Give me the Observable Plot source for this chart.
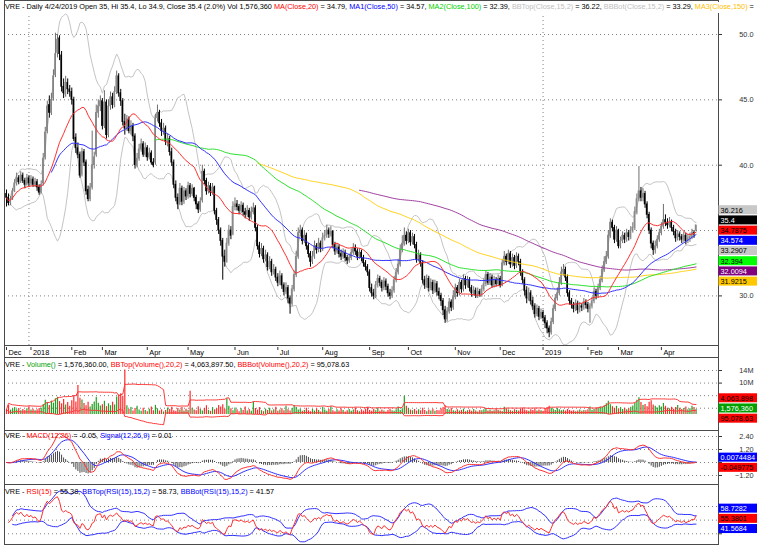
<!DOCTYPE html>
<html><head><meta charset="utf-8">
<script src="https://cdn.jsdelivr.net/npm/d3@7"></script>
<script src="https://cdn.jsdelivr.net/npm/@observablehq/plot@0.6"></script>
<style>
html,body{margin:0;padding:0;background:#fff;}
#chart{position:relative;width:757px;height:549px;overflow:hidden;font-family:"Liberation Sans",Arial,Helvetica,sans-serif;font-size:7.3px;color:#000;background:#fff;}
.hdr{position:absolute;left:5px;white-space:nowrap;line-height:9px;font-size:7.3px;}
</style></head><body><div id="chart">
<div class="hdr" style="top:2px;right:0;background:#fff;height:11px;z-index:2">VRE - Daily 4/24/2019 Open 35, Hi 35.4, Lo 34.9, Close 35.4 (2.0%) Vol 1,576,360 <span style="color:#ff0000">MA(Close,20)</span> = 34.79, <span style="color:#0000ff">MA1(Close,50)</span> = 34.57, <span style="color:#00d000">MA2(Close,100)</span> = 32.39, <span style="color:#c0c0c0">BBTop(Close,15,2)</span> = 36.22, <span style="color:#c0c0c0">BBBot(Close,15,2)</span> = 33.29, <span style="color:#ffc000">MA3(Close,150)</span> =</div>
<div class="hdr" style="top:360px;z-index:2">VRE - <span style="color:#00a000">Volume()</span> = 1,576,360.00, <span style="color:#ff0000">BBTop(Volume(),20,2)</span> = 4,063,897.50, <span style="color:#ff0000">BBBot(Volume(),20,2)</span> = 95,078.63</div>
<div class="hdr" style="top:431px;z-index:2">VRE - <span style="color:#ff0000">MACD(12,26)</span> = -0.05, <span style="color:#0000ff">Signal(12,26,9)</span> = 0.01</div>
<div class="hdr" style="top:486.5px;z-index:2">VRE - <span style="color:#ff0000">RSI(15)</span> = 55.38, <span style="color:#0000ff">BBTop(RSI(15),15,2)</span> = 58.73, <span style="color:#0000ff">BBBot(RSI(15),15,2)</span> = 41.57</div>
</div>
<script>
// ---------- data (daily) ----------
const opens = [37.8,37.5,37.1,37.4,38.0,38.6,39.0,38.7,39.2,38.8,
38.5,39.0,38.6,38.9,38.5,38.7,38.3,37.9,38.6,40.6,
42.6,44.6,44.0,45.1,46.9,48.6,49.7,48.4,46.0,45.4,
46.3,45.8,45.6,45.0,42.1,41.3,40.8,39.3,41.0,40.2,
38.1,37.4,38.3,40.0,40.8,44.0,44.5,44.9,43.0,44.8,
42.3,44.5,45.2,44.6,45.6,46.8,45.5,44.9,43.3,42.8,
43.5,42.6,43.0,42.2,40.0,40.5,41.2,41.6,40.8,41.3,
40.6,40.9,40.2,40.2,43.6,44.0,43.2,42.6,42.8,41.8,
42.0,41.0,40.2,38.5,37.5,37.0,38.2,37.2,38.0,37.6,
38.4,37.8,38.2,37.5,37.0,36.6,37.3,39.5,38.8,38.0,
38.4,37.9,38.3,36.5,35.8,35.0,34.2,33.0,32.6,34.0,
35.0,34.7,36.8,37.0,36.8,36.5,36.9,36.4,36.2,36.5,
36.0,36.4,36.7,35.2,33.8,33.2,33.6,32.8,33.1,32.2,
32.6,31.8,32.0,31.4,31.0,31.5,30.8,30.3,30.6,29.8,
29.4,30.5,31.6,33.0,34.8,35.0,34.2,34.6,33.8,33.2,
32.6,33.0,33.8,33.5,34.0,33.6,34.4,34.6,35.0,34.7,
34.9,33.9,33.4,33.7,33.2,33.0,33.3,32.9,32.7,32.9,
33.3,33.6,33.4,33.0,33.3,32.9,32.5,32.2,31.8,30.6,
30.2,30.0,30.8,31.3,31.0,30.6,31.1,30.7,30.2,30.0,
30.4,31.2,31.8,32.4,33.5,34.0,34.6,34.2,34.8,34.1,
34.5,33.9,32.8,33.1,32.5,31.2,30.8,31.3,30.6,31.0,
30.4,30.9,30.3,30.0,29.6,28.9,28.2,28.8,29.5,29.1,
29.9,30.6,30.2,31.0,30.5,31.3,30.8,31.2,30.6,30.2,
30.4,30.0,30.3,30.1,30.5,30.9,31.6,31.0,31.4,30.8,
31.2,30.9,31.3,30.8,32.5,33.0,32.6,33.2,32.4,32.9,
32.3,33.0,32.6,31.8,31.2,30.4,29.8,30.2,29.6,29.2,
28.6,29.0,28.4,28.7,28.3,27.9,27.5,27.2,28.0,29.0,
29.8,30.2,31.0,31.8,32.0,31.4,30.2,29.6,29.3,29.0,
29.4,28.9,29.2,29.1,29.5,29.3,29.0,29.2,29.6,30.3,
30.0,30.6,31.2,32.0,32.6,33.0,34.6,35.6,35.2,34.3,
35.0,33.8,34.2,34.6,34.3,34.8,34.5,35.0,35.2,36.4,
37.4,38.0,37.5,37.8,37.0,36.2,35.0,34.0,33.5,33.8,
34.3,34.8,35.3,35.8,35.6,35.4,35.6,35.2,34.9,34.4,
34.7,34.5,34.3,34.6,34.2,34.4,34.5,34.8,35.0];
const highs = [38.1,37.8,37.6,38.2,38.9,39.4,39.2,39.5,39.4,39.0,
39.3,39.2,39.2,39.1,39.0,38.9,38.5,38.8,40.9,42.9,
44.9,45.3,45.5,47.3,50.1,50.0,49.9,48.7,46.6,46.8,
46.6,46.1,45.9,45.2,42.4,41.7,41.0,41.3,41.2,40.4,
38.4,38.6,42.6,41.0,44.6,45.0,45.3,45.1,45.7,45.0,
45.0,45.6,45.5,46.0,47.2,47.0,45.8,45.1,43.9,43.8,
43.7,43.4,43.2,42.4,40.9,41.6,42.0,41.8,41.7,41.5,
41.3,41.1,40.5,43.9,44.6,44.2,43.5,43.2,43.0,42.4,
42.2,41.3,40.4,38.8,37.8,38.6,38.4,38.3,38.2,38.7,
38.6,38.5,38.3,37.7,37.2,37.5,40.0,39.7,39.0,38.7,
38.6,38.6,38.4,36.7,36.0,35.2,34.4,33.5,34.4,35.4,
35.3,37.2,37.5,37.3,37.0,37.2,37.1,36.7,36.9,36.7,
36.8,37.1,36.9,35.4,34.1,34.0,33.8,33.5,33.3,33.0,
32.8,32.4,32.2,31.7,31.9,31.7,31.0,31.0,30.8,30.0,
30.8,31.9,33.4,35.2,35.4,35.2,35.0,34.8,34.0,33.4,
33.4,34.2,34.0,34.4,34.2,34.8,35.0,35.4,35.2,35.3,
35.0,34.1,34.0,33.9,33.5,33.6,33.5,33.1,33.2,33.6,
34.0,33.9,33.6,33.6,33.5,33.1,32.7,32.4,32.0,30.9,
30.5,31.1,31.6,31.5,31.2,31.4,31.3,30.9,30.5,30.7,
31.5,32.1,32.8,33.9,34.6,35.2,34.9,35.1,35.0,34.8,
34.7,34.1,33.5,33.3,32.7,31.5,31.6,31.5,31.3,31.2,
31.2,31.1,30.6,30.2,29.8,29.2,29.1,29.8,29.7,30.4,
30.9,30.8,31.3,31.2,31.6,31.5,31.5,31.4,30.8,30.7,
30.6,30.6,30.5,30.8,31.3,31.9,31.8,31.7,31.6,31.5,
31.4,31.6,31.5,32.8,33.4,33.2,33.5,33.4,33.2,33.1,
33.3,33.2,32.8,32.0,31.4,30.7,30.6,30.4,29.9,29.4,
29.3,29.2,29.0,28.9,28.5,28.1,27.7,28.3,29.3,30.1,
30.6,31.4,32.2,32.4,32.2,31.6,30.4,29.8,29.5,29.7,
29.6,29.5,29.4,29.8,29.7,29.5,29.4,29.9,30.6,30.5,
30.9,31.5,32.3,33.0,33.4,35.0,35.9,35.8,35.4,35.3,
35.1,34.5,34.9,34.8,35.1,35.0,35.3,35.6,36.8,37.8,
39.9,38.3,38.2,38.0,37.2,36.4,35.2,34.2,34.2,34.6,
35.1,35.6,37.0,36.2,35.9,36.0,35.8,35.4,35.1,35.0,
34.9,34.7,34.9,34.8,34.7,34.8,35.1,35.0,35.4];
const lows = [36.8,36.9,36.9,37.3,37.9,38.4,38.5,38.6,38.6,38.2,
38.4,38.3,38.4,38.3,38.3,38.0,37.7,37.8,38.4,40.4,
42.4,43.6,43.8,44.9,46.7,48.2,48.0,45.6,45.1,45.2,
45.4,45.2,44.6,41.8,40.9,40.5,39.0,39.1,39.9,37.7,
37.2,37.2,38.1,39.7,40.6,43.6,44.1,42.7,42.8,42.0,
42.1,44.2,44.3,44.4,45.4,45.2,44.5,43.0,42.3,42.6,
42.4,42.3,41.8,39.7,39.8,40.3,41.0,40.6,40.6,40.3,
40.4,40.0,39.8,40.0,43.3,42.9,42.2,42.3,41.5,41.4,
40.7,39.9,38.2,37.2,36.6,36.9,36.9,37.0,37.3,37.4,
37.5,37.6,37.2,36.6,36.3,36.4,37.1,38.5,37.7,37.8,
37.6,37.7,36.2,35.4,34.7,33.8,31.2,32.2,32.5,33.8,
34.3,34.6,36.5,36.5,36.2,36.3,36.1,35.9,36.0,35.7,
35.8,36.2,34.9,33.5,32.9,33.0,32.5,32.6,31.9,32.0,
31.5,31.6,31.1,30.7,30.8,30.5,30.0,30.1,29.4,28.6,
29.2,30.3,31.4,32.8,34.5,33.9,34.0,33.5,32.9,32.2,
32.4,32.8,33.2,33.3,33.3,33.4,34.2,34.4,34.4,34.5,
33.6,33.1,33.2,32.9,32.7,32.8,32.6,32.4,32.5,32.7,
33.1,33.1,32.7,32.8,32.6,32.2,31.9,31.5,30.3,29.9,
29.7,29.8,30.6,30.7,30.3,30.4,30.4,29.9,29.7,29.8,
30.2,31.0,31.6,32.2,33.3,33.8,33.9,34.0,33.8,33.9,
33.6,32.5,32.6,32.2,30.9,30.5,30.6,30.3,30.4,30.1,
30.2,30.0,29.7,29.2,28.5,27.9,28.0,28.6,28.8,28.9,
29.7,29.9,30.0,30.2,30.3,30.5,30.6,30.3,29.9,30.0,
29.8,29.8,29.9,29.9,30.3,30.7,30.8,30.8,30.6,30.6,
30.7,30.7,30.6,30.7,32.3,32.3,32.4,32.1,32.2,32.0,
32.1,32.3,31.5,30.9,30.0,29.4,29.6,29.3,28.9,28.3,
28.4,28.1,28.2,28.0,27.5,27.1,26.8,27.0,27.8,28.8,
29.6,30.0,30.8,31.5,31.1,29.9,29.3,29.0,28.7,28.8,
28.6,28.7,28.8,28.9,29.0,28.7,27.9,29.0,29.4,29.7,
29.8,30.4,31.0,31.8,32.4,32.8,34.4,34.9,34.0,34.1,
33.6,33.6,34.0,34.0,34.1,34.2,34.3,34.8,35.0,36.2,
37.2,37.2,37.2,36.7,35.9,34.7,33.6,33.1,33.2,33.6,
34.1,34.6,35.1,35.3,35.1,35.2,34.9,34.6,34.1,34.2,
34.2,34.0,34.1,33.9,34.0,34.1,34.3,34.4,34.9];
const closes = [37.5,37.1,37.4,38.0,38.6,39.0,38.7,39.2,38.8,38.5,
39.0,38.6,38.9,38.5,38.7,38.3,37.9,38.5,40.5,42.5,
44.5,44.0,45.0,46.8,48.5,49.6,48.5,46.0,45.5,46.3,
45.8,45.6,45.0,42.0,41.3,40.8,39.2,41.0,40.2,38.0,
37.4,38.3,40.0,40.6,44.0,44.5,44.9,43.0,44.8,42.3,
44.5,45.2,44.6,45.6,46.8,45.5,44.9,43.3,42.8,43.5,
42.6,43.0,42.2,40.0,40.5,41.2,41.6,40.8,41.3,40.6,
40.9,40.2,40.0,43.6,44.0,43.2,42.6,42.8,41.8,42.0,
41.0,40.2,38.5,37.5,37.0,38.2,37.2,38.0,37.6,38.4,
37.8,38.2,37.5,37.0,36.6,37.2,39.5,38.8,38.0,38.4,
37.9,38.3,36.5,35.8,35.0,34.2,33.0,32.6,34.0,35.0,
34.6,36.8,37.0,36.8,36.5,36.9,36.4,36.2,36.5,36.0,
36.4,36.7,35.2,33.8,33.2,33.6,32.8,33.1,32.2,32.6,
31.8,32.0,31.4,31.0,31.5,30.8,30.3,30.6,29.8,29.4,
30.5,31.6,33.0,34.8,35.0,34.2,34.6,33.8,33.2,32.6,
33.0,33.8,33.5,34.0,33.6,34.4,34.6,35.0,34.7,34.9,
33.9,33.4,33.7,33.2,33.0,33.3,32.9,32.7,32.9,33.3,
33.6,33.4,33.0,33.3,32.9,32.5,32.2,31.8,30.6,30.2,
30.0,30.8,31.3,31.0,30.6,31.1,30.7,30.2,30.0,30.4,
31.2,31.8,32.4,33.5,34.0,34.6,34.2,34.8,34.1,34.5,
33.9,32.8,33.1,32.5,31.2,30.8,31.3,30.6,31.0,30.4,
30.9,30.3,30.0,29.6,28.9,28.2,28.8,29.5,29.1,29.9,
30.6,30.2,31.0,30.5,31.3,30.8,31.2,30.6,30.2,30.4,
30.0,30.3,30.1,30.5,30.9,31.6,31.0,31.4,30.8,31.2,
30.9,31.3,30.8,32.5,33.0,32.6,33.2,32.4,32.9,32.3,
33.0,32.6,31.8,31.2,30.4,29.8,30.2,29.6,29.2,28.6,
29.0,28.4,28.7,28.3,27.9,27.5,27.2,28.0,29.0,29.8,
30.2,31.0,31.8,32.0,31.4,30.2,29.6,29.3,29.0,29.4,
28.9,29.2,29.1,29.5,29.3,29.0,29.2,29.6,30.3,30.0,
30.6,31.2,32.0,32.6,33.0,34.6,35.6,35.2,34.3,35.0,
33.8,34.2,34.6,34.3,34.8,34.5,35.0,35.2,36.4,37.4,
38.0,37.5,37.8,37.0,36.2,35.0,34.0,33.5,33.8,34.3,
34.8,35.3,35.8,35.6,35.4,35.6,35.2,34.9,34.4,34.7,
34.5,34.3,34.6,34.2,34.4,34.5,34.8,34.7,35.4];
// volume in millions of shares
const volumes = [1.6,2.9,1.4,1.8,2.2,1.5,1.9,1.2,1.6,1.3,
1.8,2.5,1.4,1.7,1.2,1.5,1.9,2.0,3.2,4.5,
3.8,2.9,4.2,3.6,5.0,5.5,4.1,3.4,4.8,3.0,
3.8,2.6,4.4,5.8,4.0,9.2,5.2,4.6,3.5,2.8,
3.9,2.4,3.2,4.0,5.5,3.6,2.7,3.1,4.2,2.5,
3.4,2.8,3.9,3.0,5.6,6.2,6.6,5.8,14.2,2.8,
1.6,2.2,1.1,1.9,2.6,1.4,1.0,2.0,1.3,0.9,
1.7,2.4,1.2,2.9,1.8,1.1,1.5,0.8,1.3,2.1,
1.6,2.3,1.2,1.0,1.9,1.4,2.2,1.1,1.7,1.3,
7.4,2.0,1.4,1.2,2.5,1.6,1.1,1.9,2.8,1.3,
1.0,2.2,1.5,1.8,2.9,2.4,3.1,1.7,5.0,2.6,
1.8,1.2,2.1,1.5,0.9,1.8,1.3,2.4,1.1,1.6,
1.0,4.0,1.9,1.4,2.2,1.2,0.9,1.7,1.3,2.0,
1.1,1.5,2.3,1.0,1.4,1.8,1.2,2.6,1.5,1.1,
1.9,2.9,2.2,1.4,1.7,1.0,1.3,2.0,1.2,0.9,
1.6,1.1,1.8,1.3,0.8,2.3,1.4,1.0,1.6,2.5,
1.2,0.9,1.5,1.1,1.8,1.3,0.8,1.2,1.6,1.0,
1.4,2.1,1.2,0.9,1.5,1.1,1.7,2.2,1.3,1.0,
1.6,1.2,1.9,1.0,1.4,1.1,0.8,1.3,1.7,1.2,
1.0,1.5,2.4,1.3,1.8,5.8,2.6,1.9,1.4,1.2,
1.6,1.1,1.5,1.2,2.0,1.3,0.9,1.4,1.1,1.7,
1.0,1.3,1.2,1.8,2.2,2.8,1.6,1.4,1.9,1.2,
1.0,1.5,1.1,1.3,1.7,0.9,1.2,1.4,1.0,1.6,
1.1,0.8,1.3,1.2,1.5,1.9,1.1,1.4,1.0,1.2,
1.6,1.3,1.1,0.9,2.3,1.8,1.4,1.2,1.0,1.5,
1.3,1.1,1.6,1.9,1.4,1.2,1.0,1.5,1.3,1.8,
1.1,1.4,1.2,1.0,1.6,2.2,2.6,1.9,1.7,1.3,
2.0,1.5,1.2,1.4,1.1,1.6,1.3,1.0,1.2,0.9,
1.1,1.4,1.0,1.3,1.2,1.5,2.4,1.3,1.6,1.9,
2.1,2.4,2.2,2.8,3.4,4.2,3.1,2.5,2.0,2.6,
1.8,2.2,1.6,2.0,1.5,1.8,2.3,2.7,3.6,4.5,
5.3,3.8,2.9,3.2,2.5,3.9,4.4,3.0,2.6,2.1,
2.8,2.4,3.5,2.6,2.0,1.8,2.3,1.7,2.2,2.9,
2.0,1.6,1.9,2.4,1.5,1.8,2.6,2.2,1.58];

// axis labels (month starts as trading-day index)
const monthLabels = ["Dec","2018","Feb","Mar","Apr","May","Jun","Jul","Aug","Sep","Oct","Nov","Dec","2019","Feb","Mar","Apr"];
const monthStart  = [0,12,32,47,69,89,112,133,155,178,197,220,242,263,285,300,321];
const yearGrid = [11, 263];
const priceTicks = [30, 35, 40, 45, 50];
const volTicks = [2, 6, 10, 14];
const macdTicks = [-1.2, 0, 1.2, 2.4];
const rsiTicks = [30, 50, 70];

// last-value labels on the right
const mainLabels = [
  {label:"36.216", value:36.216, bg:"#c8c8c8", fg:"#000"},
  {label:"35.4", value:35.4, bg:"#000000", fg:"#fff"},
  {label:"34.7875", value:34.7875, bg:"#ff0000", fg:"#000"},
  {label:"34.574", value:34.574, bg:"#0000ff", fg:"#fff"},
  {label:"33.2907", value:33.2907, bg:"#c8c8c8", fg:"#000"},
  {label:"32.394", value:32.394, bg:"#00ff00", fg:"#000"},
  {label:"32.0094", value:32.0094, bg:"#800080", fg:"#fff"},
  {label:"31.9215", value:31.9215, bg:"#ffc800", fg:"#000"}];
const volLabels = [
  {label:"4,063,898", value:4.0639, bg:"#ff0000", fg:"#000"},
  {label:"1,576,360", value:1.57636, bg:"#00a000", fg:"#fff"},
  {label:"95,078.63", value:0.0951, bg:"#ff0000", fg:"#000"}];
const macdLabels = [
  {label:"0.0074484", value:0.0074484, bg:"#0000ff", fg:"#fff"},
  {label:"-0.049775", value:-0.049775, bg:"#ff0000", fg:"#000"}];
const rsiLabels = [
  {label:"58.7282", value:58.7282, bg:"#0000ff", fg:"#fff"},
  {label:"55.3801", value:55.3801, bg:"#ff0000", fg:"#000"},
  {label:"41.5684", value:41.5684, bg:"#0000ff", fg:"#fff"}];

// ---------- indicators (computed like the charting package) ----------
const N = closes.length;
function sma(a, n){ return a.map((_, i) => d3.mean(a.slice(Math.max(0, i-n+1), i+1))); }
function bands(a, n, k, from){ return a.map((_, i) => { const w = a.slice(Math.max(from||0, i-n+1), i+1).filter(v => !isNaN(v)); const m = d3.mean(w); const sd = Math.sqrt(d3.mean(w, v => (v-m)*(v-m))); return [m+k*sd, m-k*sd]; }); }
function ema(a, n){ const al = 2/(n+1); let e = a[0]; return a.map(v => (e = e + al*(v-e))); }
// Wilder RSI, seeded with the mean absolute change of the first n days split evenly
function rsiCalc(a, n){
  const ch = a.slice(1).map((v,i)=>v-a[i]);
  const seed = d3.mean(ch.slice(0,n), Math.abs)/2;
  let ag = seed, al = seed; const out=[NaN];
  for (const c of ch){ ag=(ag*(n-1)+Math.max(c,0))/n; al=(al*(n-1)+Math.max(-c,0))/n; out.push(100-100/(1+ag/al)); }
  return out; }
const ma20 = sma(closes,20), ma50 = sma(closes,50), ma100 = sma(closes,100), ma150 = sma(closes,150), ma200 = sma(closes,200);
const bb = bands(closes,15,2);
const vbb = bands(volumes,20,2);
const e12 = ema(closes,12), e26 = ema(closes,26);
const macd = e12.map((v,i)=>v-e26[i]);
const sig = ema(macd,9);
const rsi = rsiCalc(closes,15);
const rbb = bands(rsi,15,2,1);
const rows = d3.range(N).map(i => ({i, o:opens[i], h:highs[i], l:lows[i], c:closes[i], v:volumes[i],
  ma20:ma20[i], ma50:ma50[i], ma100:ma100[i], ma150:ma150[i], ma200:ma200[i], bbt:bb[i][0], bbb:bb[i][1],
  vt:vbb[i][0], vb:vbb[i][1], macd:macd[i], sig:sig[i], hist:macd[i]-sig[i], rsi:rsi[i], rt:rbb[i][0], rb:rbb[i][1],
  up: closes[i] >= opens[i]}));

// ---------- layout ----------
const chart = document.getElementById("chart");
const W = 757, ML = 4, MR = 39, FS = 7.3;
const xDomain = [-0.98, 349.0];
const font = '"Liberation Sans", Arial, Helvetica, sans-serif';
const frameColor = "#4a4a4a", gridColor = "#808080";

function dodge(nodes, gap){
  nodes.sort((a,b)=>a.ideal-b.ideal);
  let cl = nodes.map(n=>({m:[n], c:n.ideal}));
  let changed = true;
  while (changed){ changed = false;
    for (let k=0;k<cl.length-1;k++){ const a=cl[k], b=cl[k+1];
      const aEnd = a.c + (a.m.length-1)*gap/2, bStart = b.c - (b.m.length-1)*gap/2;
      if (bStart - aEnd < gap){ const m=a.m.concat(b.m); cl.splice(k,2,{m, c:d3.mean(m,n=>n.ideal)}); changed = true; break; } } }
  for (const c of cl) c.m.forEach((n,j)=> n.pos = c.c + (j-(c.m.length-1)/2)*gap);
  return nodes;
}
// right-hand scale: dotted grid, tick marks, tick labels (hidden where a value box sits), value boxes
function rightScale(ticks, fmt, items, yDomain, H){
  const ys = Plot.scale({y:{domain:yDomain, range:[H,0]}});
  const placed = dodge(items.map(d=>({...d, ideal: ys.apply(d.value)})), 10.2);
  const r = placed.map(d=>({...d, yc: ys.invert(d.pos), yt: ys.invert(d.pos-4.5), yb: ys.invert(d.pos+4.5)}));
  const shown = ticks.filter(t => d3.min(placed, d => Math.abs(d.pos - ys.apply(t))) >= 7.0);
  return {
    under: [
      Plot.ruleY(ticks, {stroke:gridColor, strokeDasharray:"1,3"})
    ],
    over: [
      Plot.axisY({anchor:"right", ticks, tickSize:3, tickFormat:()=>"", stroke:"#333"}),
      Plot.text(shown, {y:d=>d, text:fmt, frameAnchor:"right", dx:35, textAnchor:"end", fill:"#333", fontSize:FS}),
      Plot.rect(r, {x1: () => xDomain[1]+0.25, x2: () => xDomain[1]+30, y1:"yt", y2:"yb", fill:"bg"}),
      Plot.text(r, {y:"yc", text:"label", frameAnchor:"right", dx:2, textAnchor:"start", fill:"fg", fontSize:FS})
    ]
  };
}
function panel(top, height, yDomain, marks){
  const svg = Plot.plot({width:W, height, marginLeft:ML, marginRight:MR, marginTop:0, marginBottom:0,
    x:{domain:xDomain, axis:null}, y:{domain:yDomain, axis:null}, color:{type:"identity"},
    style:{fontFamily:font, fontSize:FS+"px", background:"transparent", overflow:"visible"}, marks});
  svg.style.position = "absolute"; svg.style.left = "0px"; svg.style.top = top+"px";
  chart.appendChild(svg);
}

// main price panel
const mainDom = [26.205, 52.601], mainH = 345;
const mainScale = rightScale(priceTicks, d=>d3.format(".1f")(d), mainLabels, mainDom, mainH);
panel(0, mainH, mainDom, [
  ...mainScale.under,
  Plot.ruleX(yearGrid, {stroke:gridColor, strokeDasharray:"1,3"}),
  Plot.line(rows, {x:"i", y:"bbt", stroke:"#c4c4c4", strokeWidth:1}),
  Plot.line(rows, {x:"i", y:"bbb", stroke:"#c4c4c4", strokeWidth:1}),
  Plot.ruleX(rows, {x:"i", y1:"l", y2:"h", stroke:d=>d.up?"#6e6e6e":"#000", strokeWidth:1}),
  Plot.rect(rows, {x1:d=>d.i-0.38, x2:d=>d.i+0.38, y1:d=>Math.min(d.o,d.c)-0.03, y2:d=>Math.max(d.o,d.c)+0.03, fill:d=>d.up?"#8a8a8a":"#000"}),
  Plot.line(rows.filter(d=>d.i>=173), {x:"i", y:"ma200", stroke:"#a040a0", strokeWidth:1}),
  Plot.line(rows.filter(d=>d.i>=123), {x:"i", y:"ma150", stroke:"#ffd21f", strokeWidth:1}),
  Plot.line(rows.filter(d=>d.i>=73), {x:"i", y:"ma100", stroke:"#2ce02c", strokeWidth:1}),
  Plot.line(rows.filter(d=>d.i>=22), {x:"i", y:"ma50", stroke:"#3030ff", strokeWidth:1}),
  Plot.line(rows, {x:"i", y:"ma20", stroke:"#ff3030", strokeWidth:1}),
  Plot.frame({stroke:frameColor}),
  ...mainScale.over
]);

// date strip
const months = monthLabels.map((t,k)=>({t, i:monthStart[k]}));
panel(345, 12, [0,1], [
  Plot.tickX(months, {x:"i", stroke:"#333", insetTop:2, insetBottom:7}),
  Plot.text(months, {x:"i", text:"t", textAnchor:"start", dx:2, dy:1.5, fill:"#000", fontSize:FS}),
  Plot.ruleX(xDomain, {stroke:frameColor})
]);

// volume panel
const volDom = [-5.1, 18.15], volH = 73;
const volScale = rightScale(volTicks, d=>d+"M", volLabels, volDom, volH);
panel(357, volH, volDom, [
  ...volScale.under,
  Plot.ruleX(rows, {x:"i", y1:0, y2:"v", stroke:d=>d.up?"#22a022":"#ff2a2a", strokeWidth:1.2}),
  Plot.line(rows, {x:"i", y:"vt", stroke:"#ff3a3a", strokeWidth:1}),
  Plot.line(rows, {x:"i", y:"vb", stroke:"#ff3a3a", strokeWidth:1}),
  Plot.frame({stroke:frameColor}),
  ...volScale.over
]);

// MACD panel
const macdDom = [-2.031, 2.955], macdH = 54;
const macdScale = rightScale(macdTicks, d=>d3.format(".2f")(d), macdLabels, macdDom, macdH);
panel(430, macdH, macdDom, [
  ...macdScale.under,
  Plot.ruleX(rows, {x:"i", y1:0, y2:"hist", stroke:"#333", strokeWidth:0.9}),
  Plot.line(rows, {x:"i", y:"sig", stroke:"#3030ff", strokeWidth:1}),
  Plot.line(rows, {x:"i", y:"macd", stroke:"#ff3030", strokeWidth:1}),
  Plot.frame({stroke:frameColor}),
  ...macdScale.over
]);

// RSI panel
const rsiDom = [14.32, 102.2], rsiH = 60;
const rsiScale = rightScale(rsiTicks, d=>d3.format(".1f")(d), rsiLabels, rsiDom, rsiH);
const rsiRows = rows.filter(d=>d.i>=1);
const rsiBandRows = rows.filter(d=>d.i>=3);
panel(484, rsiH, rsiDom, [
  ...rsiScale.under,
  Plot.line(rsiBandRows, {x:"i", y:"rt", stroke:"#3030ff", strokeWidth:1}),
  Plot.line(rsiBandRows, {x:"i", y:"rb", stroke:"#3030ff", strokeWidth:1}),
  Plot.line(rsiRows, {x:"i", y:"rsi", stroke:"#ff3030", strokeWidth:1}),
  Plot.frame({stroke:frameColor}),
  ...rsiScale.over
]);
</script>
</body></html>
